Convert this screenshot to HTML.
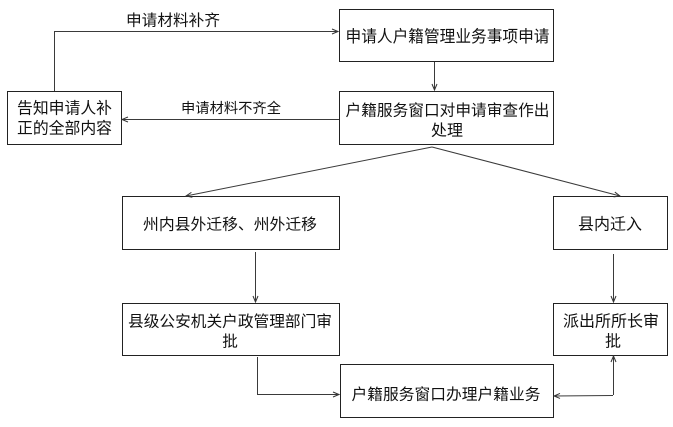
<!DOCTYPE html>
<html><head><meta charset="utf-8">
<style>
html,body{margin:0;padding:0;background:#fff;}
svg{display:block;}
text{font-family:"Liberation Sans","Noto Sans CJK SC","WenQuanYi Zen Hei",sans-serif;fill:#111;text-anchor:middle;dominant-baseline:central;}
</style></head>
<body>
<svg width="673" height="427" viewBox="0 0 673 427" xmlns="http://www.w3.org/2000/svg">
<defs>
<marker id="a" markerUnits="userSpaceOnUse" markerWidth="8" markerHeight="8" refX="7" refY="4" orient="auto">
<path d="M1,1.5 L7,4 L1,6.5" fill="none" stroke="#333" stroke-width="1"/>
</marker>
</defs>
<g fill="none" stroke="#222" stroke-width="1">
<rect x="339.5" y="9.5" width="214" height="52"/>
<rect x="339.5" y="91.5" width="214" height="53"/>
<rect x="7.5" y="91.5" width="114" height="53"/>
<rect x="122.5" y="196.5" width="217" height="53"/>
<rect x="553.5" y="196.5" width="114" height="53"/>
<rect x="122.5" y="303.5" width="217" height="52"/>
<rect x="553.5" y="303.5" width="114" height="52"/>
<rect x="340.5" y="364.5" width="213" height="53"/>
</g>
<g fill="none" stroke="#3a3a3a" stroke-width="1">
<polyline points="54.5,91 54.5,31.5 338,31.5" marker-end="url(#a)"/>
<line x1="339" y1="119.5" x2="122" y2="119.5" marker-end="url(#a)"/>
<line x1="434.5" y1="62" x2="434.5" y2="90" marker-end="url(#a)"/>
<line x1="432" y1="147" x2="186" y2="196" marker-end="url(#a)"/>
<line x1="432" y1="147" x2="620" y2="196" marker-end="url(#a)"/>
<line x1="255.5" y1="252" x2="255.5" y2="302" marker-end="url(#a)"/>
<line x1="613.5" y1="254" x2="613.5" y2="302" marker-end="url(#a)"/>
<polyline points="257.5,357 257.5,394.5 339,394.5" marker-end="url(#a)"/>
<line x1="613.5" y1="395" x2="613.5" y2="356" marker-end="url(#a)"/>
<line x1="613" y1="395.5" x2="554" y2="396" marker-end="url(#a)"/>
</g>
<text x="173" y="21" font-size="15.5" textLength="94" lengthAdjust="spacingAndGlyphs">申请材料补齐</text>
<text x="231" y="109" font-size="14.3" textLength="100" lengthAdjust="spacingAndGlyphs">申请材料不齐全</text>
<text x="447.5" y="37" font-size="16.5" textLength="204" lengthAdjust="spacingAndGlyphs">申请人户籍管理业务事项申请</text>
<text x="447.5" y="111" font-size="15.6" textLength="204" lengthAdjust="spacingAndGlyphs">户籍服务窗口对申请审查作出</text>
<text x="447" y="131" font-size="15.6" textLength="32" lengthAdjust="spacingAndGlyphs">处理</text>
<text x="64.5" y="109" font-size="16" textLength="95" lengthAdjust="spacingAndGlyphs">告知申请人补</text>
<text x="64.5" y="129" font-size="16" textLength="95" lengthAdjust="spacingAndGlyphs">正的全部内容</text>
<text x="230" y="225" font-size="15.6" textLength="174" lengthAdjust="spacingAndGlyphs">州内县外迁移、州外迁移</text>
<text x="610" y="225" font-size="16" textLength="64" lengthAdjust="spacingAndGlyphs">县内迁入</text>
<text x="230" y="322" font-size="15.6" textLength="204" lengthAdjust="spacingAndGlyphs">县级公安机关户政管理部门审</text>
<text x="230" y="342" font-size="15.6">批</text>
<text x="611" y="322" font-size="16" textLength="96" lengthAdjust="spacingAndGlyphs">派出所所长审</text>
<text x="613" y="342" font-size="16">批</text>
<text x="446" y="395" font-size="15.6" textLength="189" lengthAdjust="spacingAndGlyphs">户籍服务窗口办理户籍业务</text>
</svg>
</body></html>
